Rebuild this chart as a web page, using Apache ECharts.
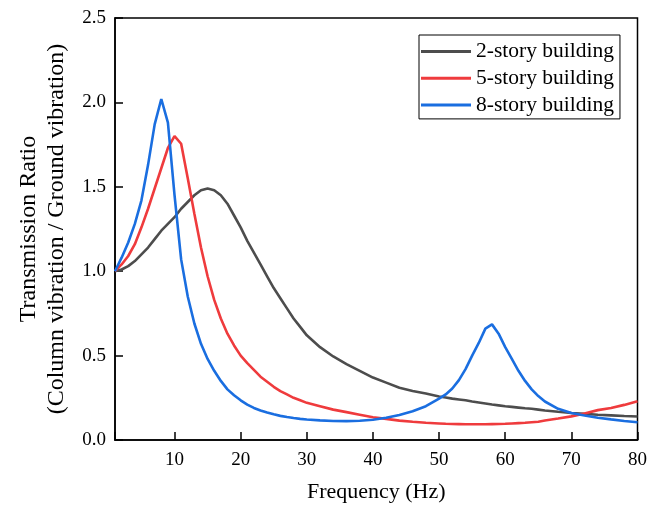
<!DOCTYPE html>
<html>
<head>
<meta charset="utf-8">
<script src="https://cdn.jsdelivr.net/npm/echarts@6/dist/echarts.min.js"></script>
<style>
html,body{margin:0;padding:0;background:#fff;}
#chart{width:650px;height:508px;}
</style>
</head>
<body>
<div id="chart"></div>
<script>
// Frequencies (Hz)
const freq = [1,2,3,4,5,6,7,8,9,10,11,12,13,14,15,16,17,18,19,20,21,22,23,24,25,26,27,28,29,30,
  32,34,36,38,40,42,44,46,48,50,
  51,52,53,54,55,56,57,58,59,60,61,62,63,64,65,66,
  68,70,72,74,76,78,80];

const story2 = [1.00,1.01,1.03,1.06,1.10,1.14,1.19,1.24,1.28,1.32,1.37,1.41,1.45,1.48,1.49,1.48,1.45,1.40,1.33,1.26,1.18,1.11,1.04,0.97,0.90,0.84,0.78,0.72,0.67,0.62,
  0.55,0.495,0.45,0.41,0.37,0.34,0.31,0.29,0.275,0.258,
  0.252,0.245,0.24,0.235,0.228,0.222,0.216,0.21,0.205,0.20,0.196,0.192,0.188,0.185,0.18,0.175,
  0.167,0.16,0.155,0.15,0.146,0.142,0.139];

const story5 = [1.00,1.04,1.09,1.16,1.26,1.37,1.49,1.61,1.73,1.80,1.755,1.55,1.34,1.14,0.97,0.83,0.72,0.63,0.56,0.50,0.455,0.415,0.375,0.345,0.315,0.29,0.27,0.25,0.235,0.22,
  0.20,0.18,0.165,0.15,0.135,0.125,0.115,0.108,0.102,0.098,
  0.096,0.095,0.094,0.093,0.093,0.093,0.093,0.094,0.095,0.096,0.098,0.10,0.102,0.105,0.108,0.115,
  0.127,0.14,0.157,0.177,0.19,0.208,0.23];

const story8 = [1.00,1.08,1.17,1.28,1.42,1.63,1.87,2.02,1.88,1.45,1.07,0.85,0.69,0.57,0.48,0.41,0.35,0.30,0.265,0.235,0.21,0.19,0.175,0.163,0.152,0.143,0.136,0.13,0.125,0.121,
  0.116,0.113,0.112,0.114,0.12,0.132,0.148,0.17,0.20,0.245,
  0.27,0.305,0.355,0.42,0.50,0.575,0.66,0.685,0.63,0.55,0.48,0.41,0.35,0.30,0.26,0.228,
  0.185,0.16,0.145,0.132,0.122,0.113,0.105];

const seriesNames = ['2-story building','5-story building','8-story building'];
const seriesColors = ['#4d4d4d','#ef3b3d','#1a6ee0'];
const seriesValues = [story2, story5, story8];

const yTicks = [0, 0.5, 1.0, 1.5, 2.0, 2.5];

const FONT = "'Liberation Serif','Times New Roman',serif";

function pairs(ys){ return freq.map((f,i)=>[f, ys[i]]); }

const chart = echarts.init(document.getElementById('chart'), null, {renderer:'canvas'});
chart.setOption({
  animation:false,
  backgroundColor:'#fff',
  grid:{left:115,right:10,top:18,bottom:65,show:true,borderColor:'#000',borderWidth:1.5,backgroundColor:'transparent'},
  legend:{
    orient:'vertical', left:419, top:35,
    data:seriesNames.map(n=>({name:n, icon:'rect'})),
    itemWidth:50, itemHeight:3, itemGap:4.7,
    padding:[5.5,6,3,2],
    borderColor:'#000', borderWidth:1,
    textStyle:{fontFamily:FONT,fontSize:21.5,color:'#000',lineHeight:22}
  },
  xAxis:{
    type:'value', min:1, max:80, splitNumber:8,
    name:'Frequency (Hz)', nameLocation:'middle', nameGap:41,
    nameTextStyle:{fontFamily:FONT,fontSize:22,color:'#000'},
    axisLine:{show:true,lineStyle:{color:'#000',width:1.5}},
    axisTick:{show:true,inside:true,length:8,lineStyle:{color:'#000',width:1.5}},
    axisLabel:{fontFamily:FONT,fontSize:19,color:'#000',margin:11,
      formatter:v=> (Math.abs(v%10)<1e-9 ? String(v) : '')},
    splitLine:{show:false}
  },
  yAxis:{
    type:'value', min:yTicks[0], max:yTicks[yTicks.length-1], interval:0.5,
    name:'Transmission Ratio\n(Column vibration / Ground vibration)', nameLocation:'middle', nameGap:44, nameRotate:90,
    nameTextStyle:{fontFamily:FONT,fontSize:24,color:'#000',lineHeight:28},
    axisLine:{show:true,lineStyle:{color:'#000',width:1.5}},
    axisTick:{show:true,inside:true,length:8,lineStyle:{color:'#000',width:1.5}},
    axisLabel:{fontFamily:FONT,fontSize:19,color:'#000',margin:9,formatter:v=>v.toFixed(1)},
    splitLine:{show:false}
  },
  series: seriesNames.map((n,i)=>({
    name:n, type:'line', data:pairs(seriesValues[i]),
    symbol:'none', smooth:false,
    lineStyle:{color:seriesColors[i],width:2.6},
    itemStyle:{color:seriesColors[i]},
    z:2+i
  }))
});
</script>
</body>
</html>
